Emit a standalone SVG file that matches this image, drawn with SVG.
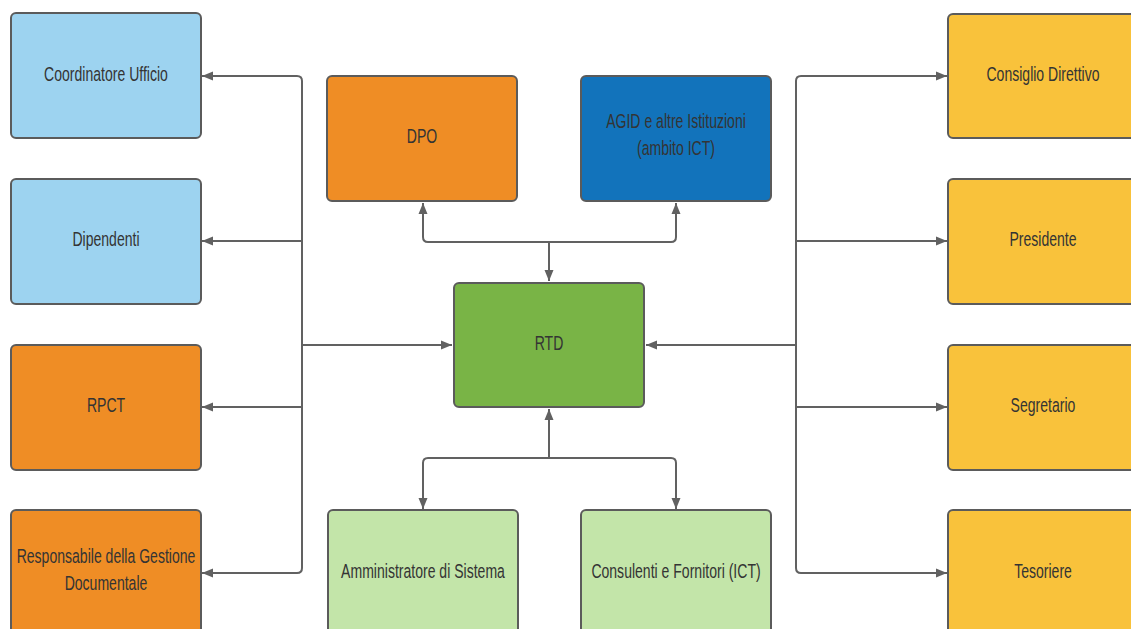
<svg xmlns="http://www.w3.org/2000/svg" width="1131" height="629" viewBox="0 0 1131 629">
  <style>
    .box { stroke: #5b5b5b; stroke-width: 2; }
    .lblue { fill: #9dd3f0; }
    .orange { fill: #ef8d25; }
    .dblue { fill: #1273bb; }
    .green { fill: #79b446; }
    .lgreen { fill: #c3e5a9; }
    .yellow { fill: #f9c23b; }
    .lbl { font-family: "Liberation Sans", Arial, sans-serif; font-size: 19.5px; fill: #343434; text-anchor: middle; }
    .conn { fill: none; stroke: #616161; stroke-width: 2; }
  </style>
  <defs>
    <marker id="arrow" markerUnits="userSpaceOnUse" markerWidth="12" markerHeight="10" refX="11" refY="5" orient="auto">
      <path d="M0,0.5 L11,5 L0,9.5 z" fill="#616161"/>
    </marker>
  </defs>
  <rect width="1131" height="629" fill="#ffffff"/>

  <!-- connectors -->
  <g id="connectors" class="conn">
    <!-- left bus -->
    <path d="M302,345 H452" marker-end="url(#arrow)"/>
    <path d="M302,345 V81 Q302,76 297,76 H202" marker-end="url(#arrow)"/>
    <path d="M302,241 H202" marker-end="url(#arrow)"/>
    <path d="M302,407 H202" marker-end="url(#arrow)"/>
    <path d="M302,345 V568 Q302,573 297,573 H202" marker-end="url(#arrow)"/>
    <!-- right bus -->
    <path d="M796,345 H646" marker-end="url(#arrow)"/>
    <path d="M796,345 V81 Q796,76 801,76 H947" marker-end="url(#arrow)"/>
    <path d="M796,241 H947" marker-end="url(#arrow)"/>
    <path d="M796,407 H947" marker-end="url(#arrow)"/>
    <path d="M796,345 V568 Q796,573 801,573 H947" marker-end="url(#arrow)"/>
    <!-- top branch -->
    <path d="M549,242 V281" marker-end="url(#arrow)"/>
    <path d="M549,242 H428 Q423,242 423,237 V203" marker-end="url(#arrow)"/>
    <path d="M549,242 H671 Q676,242 676,237 V203" marker-end="url(#arrow)"/>
    <!-- bottom branch -->
    <path d="M549,458 V409" marker-end="url(#arrow)"/>
    <path d="M549,458 H428 Q423,458 423,463 V509" marker-end="url(#arrow)"/>
    <path d="M549,458 H671 Q676,458 676,463 V509" marker-end="url(#arrow)"/>
  </g>

  <!-- left column -->
  <g id="coordinatore">
    <rect class="box lblue" x="11" y="13" width="190" height="125" rx="5"/>
    <text class="lbl" transform="translate(106,81) scale(0.72,1)">Coordinatore Ufficio</text>
  </g>
  <g id="dipendenti">
    <rect class="box lblue" x="11" y="179" width="190" height="125" rx="5"/>
    <text class="lbl" transform="translate(106,246) scale(0.72,1)">Dipendenti</text>
  </g>
  <g id="rpct">
    <rect class="box orange" x="11" y="345" width="190" height="125" rx="5"/>
    <text class="lbl" transform="translate(106,412) scale(0.72,1)">RPCT</text>
  </g>
  <g id="responsabile">
    <rect class="box orange" x="11" y="510" width="190" height="125" rx="5"/>
    <text class="lbl" transform="translate(106,563) scale(0.72,1)">Responsabile della Gestione</text>
    <text class="lbl" transform="translate(106,590) scale(0.72,1)">Documentale</text>
  </g>

  <!-- centre -->
  <g id="dpo">
    <rect class="box orange" x="327" y="76" width="190" height="125" rx="5"/>
    <text class="lbl" transform="translate(422,143) scale(0.72,1)">DPO</text>
  </g>
  <g id="agid">
    <rect class="box dblue" x="581" y="76" width="190" height="125" rx="5"/>
    <text class="lbl" transform="translate(676,128) scale(0.72,1)">AGID e altre Istituzioni</text>
    <text class="lbl" transform="translate(676,155) scale(0.72,1)">(ambito ICT)</text>
  </g>
  <g id="rtd">
    <rect class="box green" x="454" y="283" width="190" height="124" rx="5"/>
    <text class="lbl" transform="translate(549,350) scale(0.72,1)">RTD</text>
  </g>
  <g id="amministratore">
    <rect class="box lgreen" x="328" y="510" width="190" height="125" rx="5"/>
    <text class="lbl" transform="translate(423,578) scale(0.72,1)">Amministratore di Sistema</text>
  </g>
  <g id="consulenti">
    <rect class="box lgreen" x="581" y="510" width="190" height="125" rx="5"/>
    <text class="lbl" transform="translate(676,578) scale(0.72,1)">Consulenti e Fornitori (ICT)</text>
  </g>

  <!-- right column -->
  <g id="consiglio">
    <rect class="box yellow" x="948" y="14" width="190" height="124" rx="5"/>
    <text class="lbl" transform="translate(1043,81) scale(0.72,1)">Consiglio Direttivo</text>
  </g>
  <g id="presidente">
    <rect class="box yellow" x="948" y="179" width="190" height="125" rx="5"/>
    <text class="lbl" transform="translate(1043,246) scale(0.72,1)">Presidente</text>
  </g>
  <g id="segretario">
    <rect class="box yellow" x="948" y="345" width="190" height="125" rx="5"/>
    <text class="lbl" transform="translate(1043,412) scale(0.72,1)">Segretario</text>
  </g>
  <g id="tesoriere">
    <rect class="box yellow" x="948" y="510" width="190" height="125" rx="5"/>
    <text class="lbl" transform="translate(1043,578) scale(0.72,1)">Tesoriere</text>
  </g>
</svg>
